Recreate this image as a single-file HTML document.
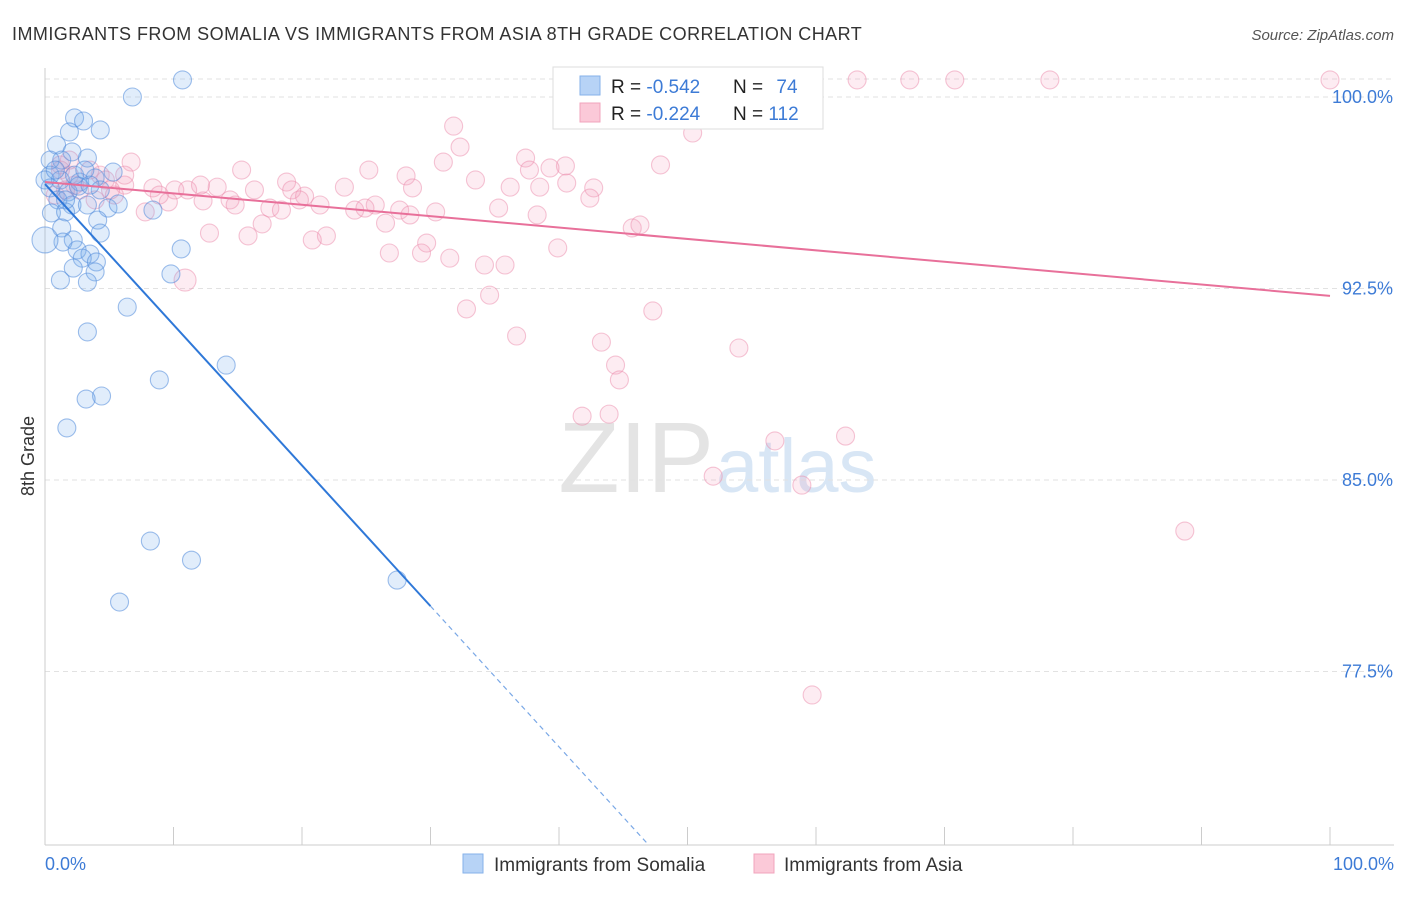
<!DOCTYPE html>
<html><head><meta charset="utf-8">
<style>
body{margin:0;background:#fff;font-family:"Liberation Sans",sans-serif;}
svg text{font-family:"Liberation Sans",sans-serif;}
</style></head>
<body>
<svg id="chart" width="1406" height="892" xmlns="http://www.w3.org/2000/svg">
<text x="12" y="40" font-size="18" fill="#333" letter-spacing="0.45">IMMIGRANTS FROM SOMALIA VS IMMIGRANTS FROM ASIA 8TH GRADE CORRELATION CHART</text>
<text x="1394" y="40" font-size="15" fill="#555" font-style="italic" text-anchor="end">Source: ZipAtlas.com</text>
<text x="714" y="492" font-size="100" fill="#e4e4e4" font-family="Liberation Serif" text-anchor="end">ZIP</text>
<text x="716" y="492" font-size="76" fill="#d8e6f5">atlas</text>
<g id="grid"></g><g id="axes"></g><g id="pts"></g><g id="lines"></g>
<text transform="translate(34,456) rotate(-90)" font-size="18" fill="#333" text-anchor="middle">8th Grade</text>
<text x="45" y="870" font-size="18" fill="#3d7bd6">0.0%</text>
<text x="1394" y="870" font-size="18" fill="#3d7bd6" text-anchor="end">100.0%</text>
<g>
<rect x="553" y="67" width="270" height="62" fill="#fff" stroke="#ddd"/>
<rect x="580" y="76" width="20" height="19" fill="#b7d3f6" stroke="#86b2ea"/>
<rect x="580" y="103" width="20" height="19" fill="#fbc9d8" stroke="#f1a4bc"/>
<text x="611" y="93" font-size="19" fill="#222">R = <tspan fill="#3d7bd6">-0.542</tspan></text>
<text x="733" y="93" font-size="19" fill="#222">N = <tspan fill="#3d7bd6" dx="8">74</tspan></text>
<text x="611" y="120" font-size="19" fill="#222">R = <tspan fill="#3d7bd6">-0.224</tspan></text>
<text x="733" y="120" font-size="19" fill="#222">N = <tspan fill="#3d7bd6">112</tspan></text>
</g>
<g>
<rect x="463" y="854" width="20" height="19" fill="#b7d3f6" stroke="#86b2ea"/>
<text x="494" y="871" font-size="19" fill="#333">Immigrants from Somalia</text>
<rect x="754" y="854" width="20" height="19" fill="#fbc9d8" stroke="#f1a4bc"/>
<text x="784" y="871" font-size="19" fill="#333">Immigrants from Asia</text>
</g>
</svg>
<script>
const yTicks=[100,92.5,85,77.5];
const yTickLabels=["100.0%","92.5%","85.0%","77.5%"];
const xTicks=[0,10,20,30,40,50,60,70,80,90,100];
const blueX=[10.7,6.8,2.3,3.0,1.9,4.3,0.9,2.1,1.3,0.4,3.3,5.3,0.4,1.2,2.7,3.9,0.4,1.8,2.6,4.3,1.0,2.1,4.9,5.7,8.4,0.5,1.6,4.1,3.3,1.3,4.3,2.2,1.4,10.6,2.5,3.5,2.9,4.0,2.2,3.9,1.2,3.3,9.8,6.4,3.3,14.1,8.9,4.4,3.2,1.7,8.2,11.4,5.8,27.4,0,0,0.8,2.3,3.5,1.6,3.1];
const blueY=[100.67,100.0,99.18,99.06,98.63,98.71,98.12,97.85,97.53,97.53,97.61,97.06,96.94,96.75,96.67,96.83,96.44,96.28,96.51,96.36,95.97,95.77,95.65,95.81,95.57,95.46,95.50,95.18,95.77,94.87,94.67,94.40,94.32,94.05,94.01,93.85,93.69,93.54,93.30,93.15,92.83,92.75,93.07,91.77,90.80,89.50,88.92,88.29,88.17,87.04,82.61,81.86,80.22,81.08,94.4,96.75,97.14,96.94,96.55,95.97,97.14];
const pinkX=[63.2,67.3,70.8,78.2,100,55.3,55.6,52.3,46.5,31.8,50.4,32.3,31.0,37.4,6.7,15.3,25.2,28.1,47.9,40.5,39.3,37.7,33.5,36.2,38.5,40.6,42.7,42.4,28.6,23.3,18.8,19.2,16.3,13.4,11.1,8.4,6.2,4.3,1.9,1.2,2.7,5.4,20.2,19.8,25.7,21.4,24.1,24.9,27.6,28.4,30.4,26.5,17.5,18.4,14.4,14.8,12.3,9.6,7.8,38.3,35.3,16.9,12.8,15.8,21.9,20.8,29.7,26.8,29.3,31.5,34.2,35.8,39.9,45.7,46.3,34.6,32.8,47.3,36.7,43.3,54.0,44.4,44.7,41.8,43.9,56.8,62.3,52.0,58.9,88.7,59.7,10.9,1.2,1.9,3.5,4.7,6.2,2.3,3.9,5.1,8.9,10.1,12.1,0.8,1.6];
const pinkY=[100.67,100.67,100.67,100.67,100.67,100.67,100.47,99.57,99.41,98.86,98.59,98.04,97.45,97.61,97.45,97.14,97.14,96.91,97.34,97.30,97.22,97.14,96.75,96.47,96.47,96.63,96.44,96.04,96.44,96.47,96.67,96.36,96.36,96.47,96.36,96.44,96.55,96.94,96.94,97.34,96.36,96.16,96.12,95.97,95.77,95.77,95.57,95.65,95.57,95.38,95.50,95.06,95.65,95.57,95.97,95.77,95.93,95.89,95.50,95.38,95.65,95.03,94.67,94.56,94.56,94.40,94.28,93.89,93.89,93.69,93.42,93.42,94.09,94.87,94.99,92.24,91.70,91.62,90.64,90.40,90.17,89.50,88.92,87.50,87.58,86.53,86.72,85.15,84.80,83.00,76.58,92.83,97.14,97.53,97.14,96.75,96.94,96.55,95.97,96.36,96.16,96.36,96.55,96.16,96.36];
const blueTrend=[96.59,-0.551];
const pinkTrend=[96.67,-0.0446];
const NS="http://www.w3.org/2000/svg";
const X0=45,X1=1330,YTOP=845;
function sx(v){return X0+(X1-X0)*v/100;}
function sy(v){return 97+(100-v)*25.533;}
function mk(tag,attrs,parent){const e=document.createElementNS(NS,tag);for(const k in attrs)e.setAttribute(k,attrs[k]);parent.appendChild(e);return e;}
const grid=document.getElementById('grid'),axes=document.getElementById('axes'),pts=document.getElementById('pts'),lines=document.getElementById('lines');
mk('line',{x1:45,y1:79,x2:1394,y2:79,stroke:'#e2e2e2','stroke-dasharray':'5,4'},grid);
yTicks.forEach((t,i)=>{
 const l=mk('line',{x1:45,y1:sy(t),x2:1394,y2:sy(t),stroke:'#e2e2e2','stroke-dasharray':'5,4'},grid);
 
 
 const tx=mk('text',{x:1393,y:sy(t)+6,'font-size':18,fill:'#3d7bd6','text-anchor':'end'},axes);
 tx.textContent=yTickLabels[i];
 
 
});
const ya=mk('line',{x1:45,y1:68,x2:45,y2:YTOP,stroke:'#ccc'},axes);


const xa=mk('line',{x1:45,y1:YTOP,x2:1394,y2:YTOP,stroke:'#ccc'},axes);


xTicks.forEach(t=>{
 const l=mk('line',{x1:sx(t),y1:YTOP-18,x2:sx(t),y2:YTOP,stroke:'#ccc'},axes);
 
 
});
pinkX.forEach((x,i)=>{
 const c=mk('circle',{cx:sx(x),cy:sy(pinkY[i]),r:(i==91?11:9),fill:'rgba(244,160,188,0.2)',stroke:'rgba(236,140,172,0.5)','stroke-width':1.1},pts);
 
 
});
blueX.forEach((x,i)=>{
 const c=mk('circle',{cx:sx(x),cy:sy(blueY[i]),r:(i==54?13:9),fill:'rgba(120,172,235,0.22)',stroke:'rgba(80,138,218,0.55)','stroke-width':1.1},pts);
 
 
});
const yMin=100-(YTOP-97)/25.533;
const bx1=30, bx2=(blueTrend[0]-yMin)/-blueTrend[1];
const bl=mk('line',{x1:sx(0),y1:sy(blueTrend[0]),x2:sx(bx1),y2:sy(blueTrend[0]+blueTrend[1]*bx1),stroke:'#2f78d8','stroke-width':2},lines);


const bd=mk('line',{x1:sx(bx1),y1:sy(blueTrend[0]+blueTrend[1]*bx1),x2:sx(bx2),y2:sy(yMin),stroke:'#7aa8e6','stroke-width':1.2,'stroke-dasharray':'5,4'},lines);


const pl=mk('line',{x1:sx(0),y1:sy(pinkTrend[0]),x2:sx(100),y2:sy(pinkTrend[0]+pinkTrend[1]*100),stroke:'#e8709a','stroke-width':2},lines);


</script>
</body></html>
